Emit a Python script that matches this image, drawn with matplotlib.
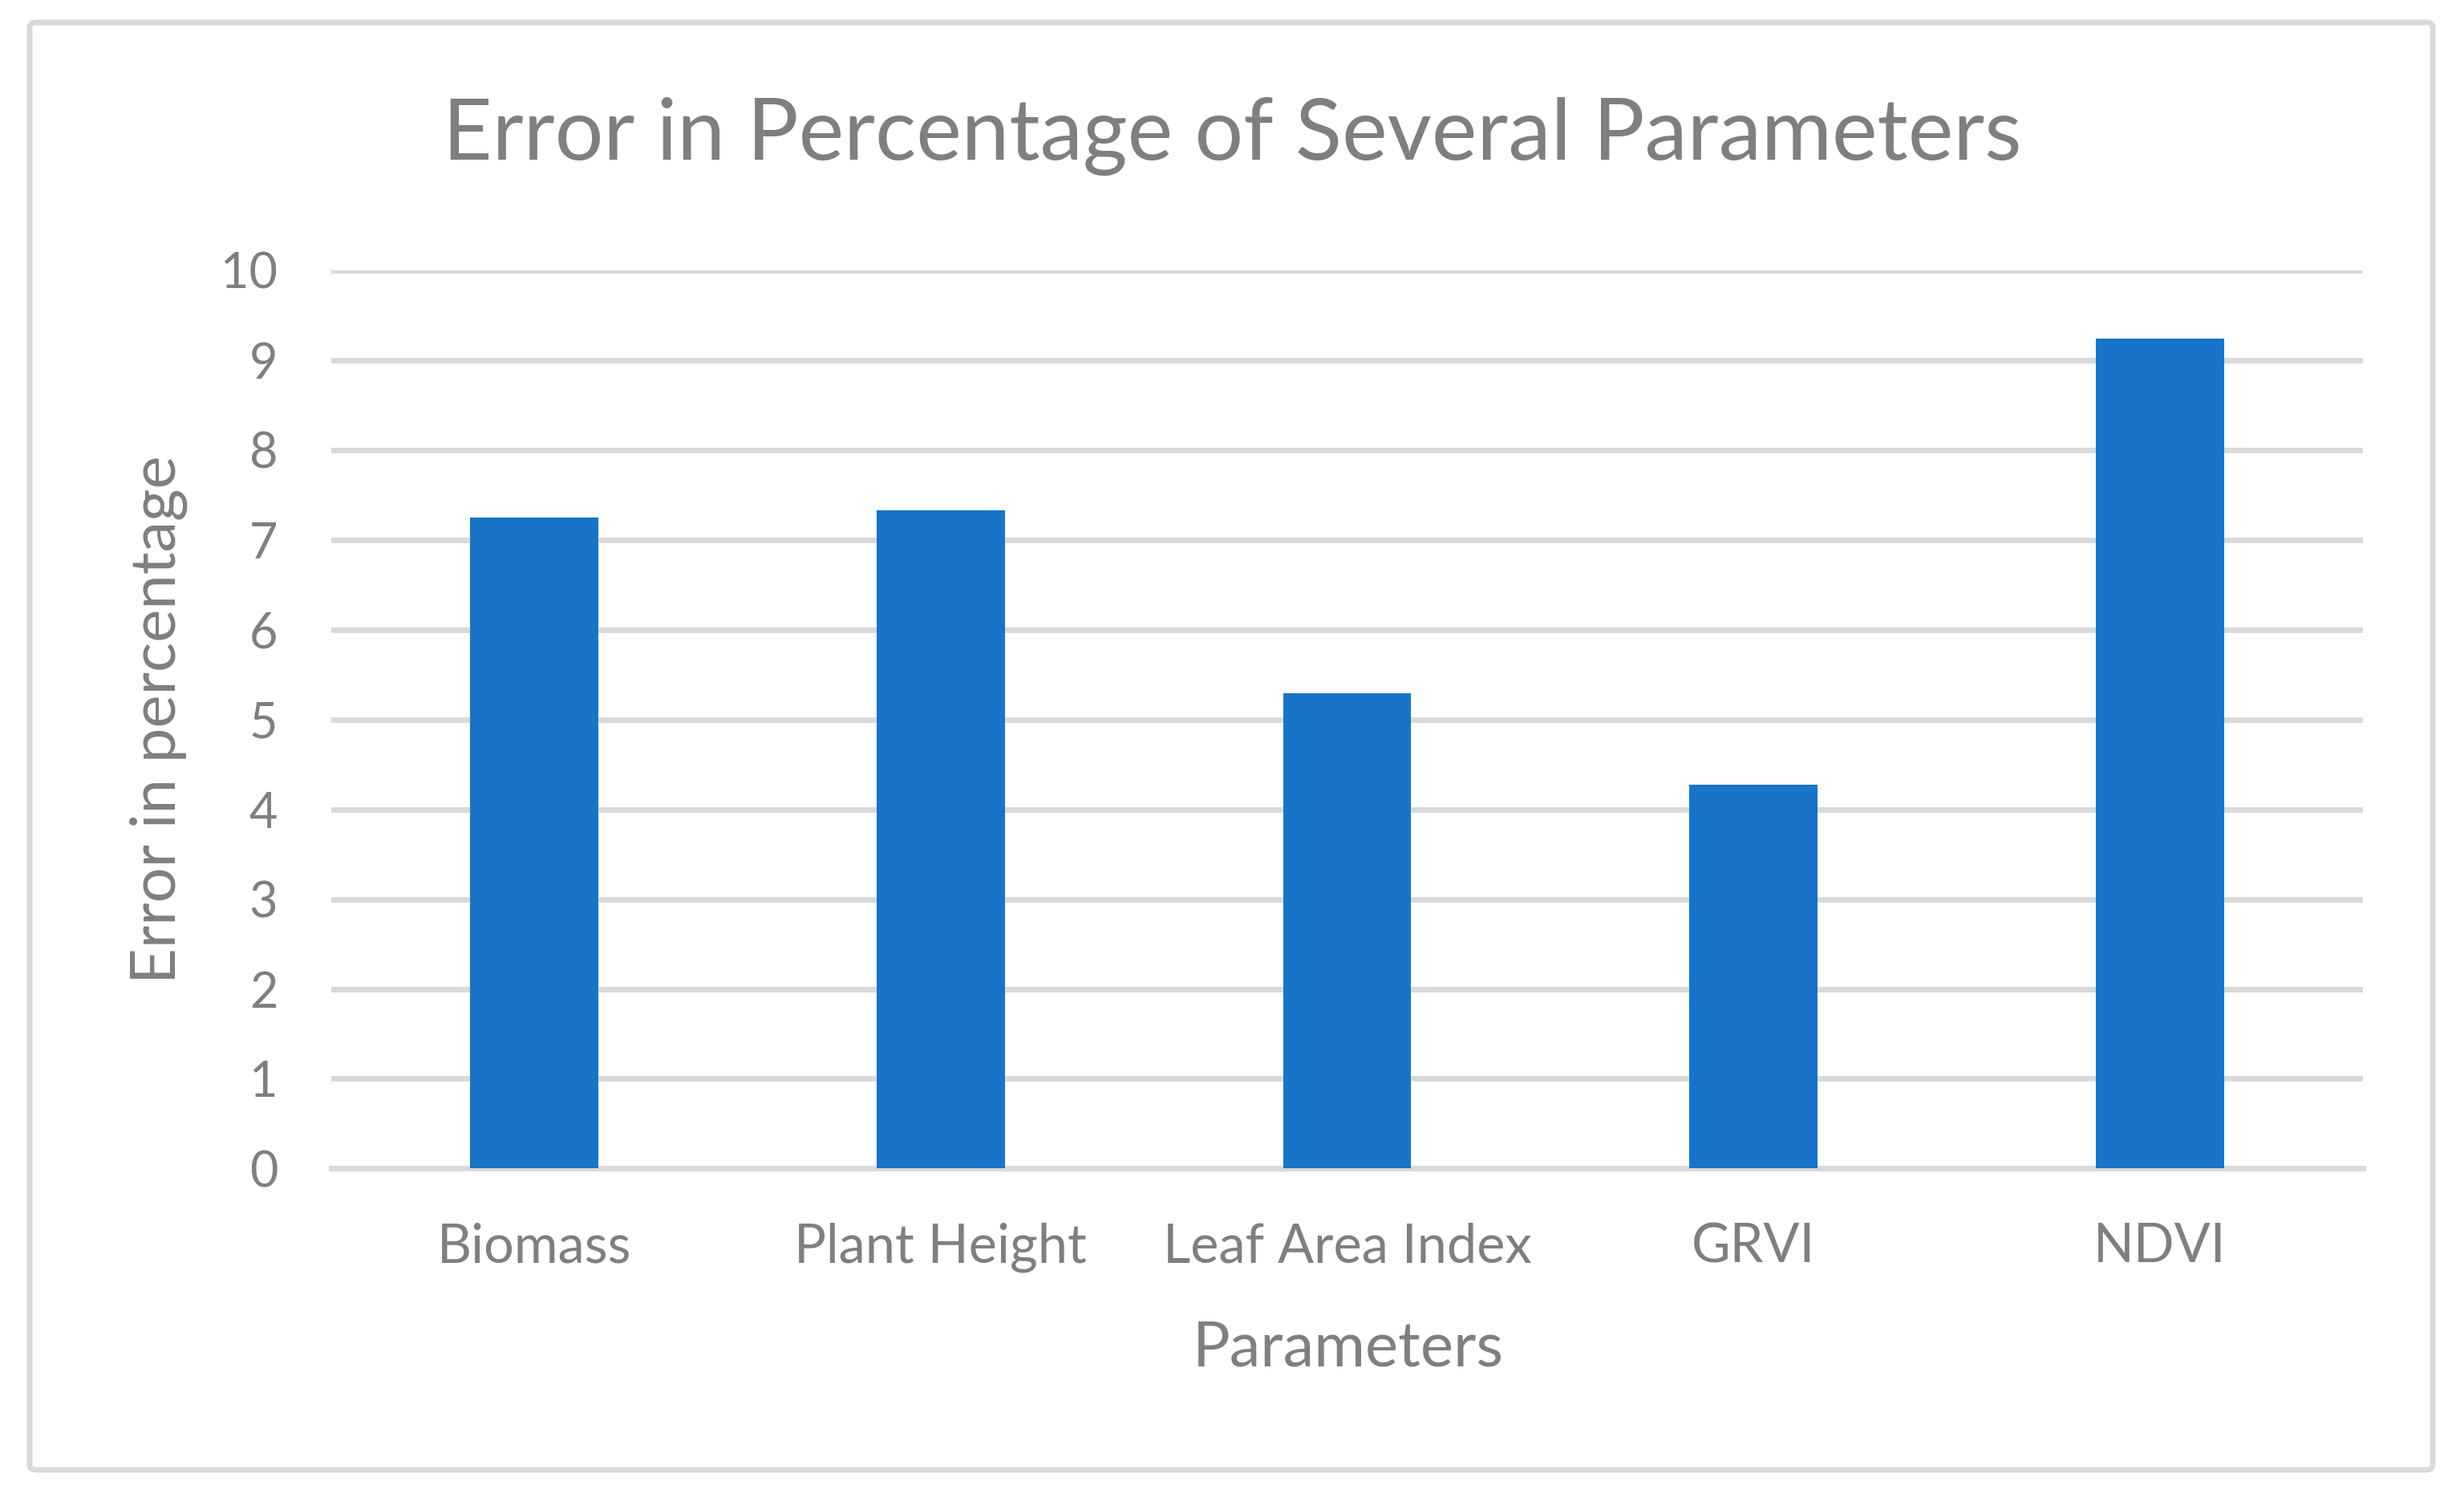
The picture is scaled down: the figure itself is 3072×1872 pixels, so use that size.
import matplotlib.pyplot as plt
from matplotlib.patches import FancyBboxPatch

# data
params = ["Biomass", "Plant Height", "Leaf Area Index", "GRVI", "NDVI"]
errors = [7.25, 7.33, 5.29, 4.27, 9.24]
yticks = [0, 1, 2, 3, 4, 5, 6, 7, 8, 9, 10]

grey_txt = "#7f7f7f"
grid_col = "#d9d9d9"
bar_col = "#1874c9"

plt.rcParams['font.family'] = ['Lato', 'DejaVu Sans']

fig = plt.figure(figsize=(15.36, 9.36), dpi=200)
ax = fig.add_axes([0.1344, 0.222, 0.959 - 0.1344, 0.820 - 0.222])

x = range(len(params))
ax.bar(x, errors, width=0.315, color=bar_col, zorder=3)

ax.set_xlim(-0.5, len(params) - 0.5)
ax.set_ylim(0, 10)
ax.set_yticks(yticks)
ax.set_xticks(list(x))
ax.set_xticklabels(params)
ax.yaxis.grid(True, color=grid_col, linewidth=2.5, zorder=0)
ax.set_axisbelow(True)
for s in ax.spines.values():
    s.set_visible(False)
ax.tick_params(axis='both', length=0, colors=grey_txt)
ax.tick_params(axis='y', pad=24, labelsize=22)
ax.tick_params(axis='x', pad=24, labelsize=24)
ax.axhline(0, color=grid_col, linewidth=2.5, zorder=1, clip_on=False)

fig.text(0.5, 1 - 170 / 1872, "Error in Percentage of Several Parameters",
         ha='center', va='center', fontsize=38.5, color=grey_txt)
fig.text(1681 / 3072, 1 - 1681 / 1872, "Parameters",
         ha='center', va='center', fontsize=28, color=grey_txt)
fig.text(198 / 3072, 0.521, "Error in percentage", rotation=90,
         ha='center', va='center', fontsize=28, color=grey_txt)

# chart area border
border = FancyBboxPatch((37 / 3072, 1 - 1832 / 1872), (3033 - 37) / 3072, (1832 - 28) / 1872,
                        boxstyle="round,pad=0,rounding_size=0.003",
                        transform=fig.transFigure, fill=False,
                        edgecolor=grid_col, linewidth=2.5)
fig.patches.append(border)

fig.savefig("out.png", dpi=200, facecolor="white")
